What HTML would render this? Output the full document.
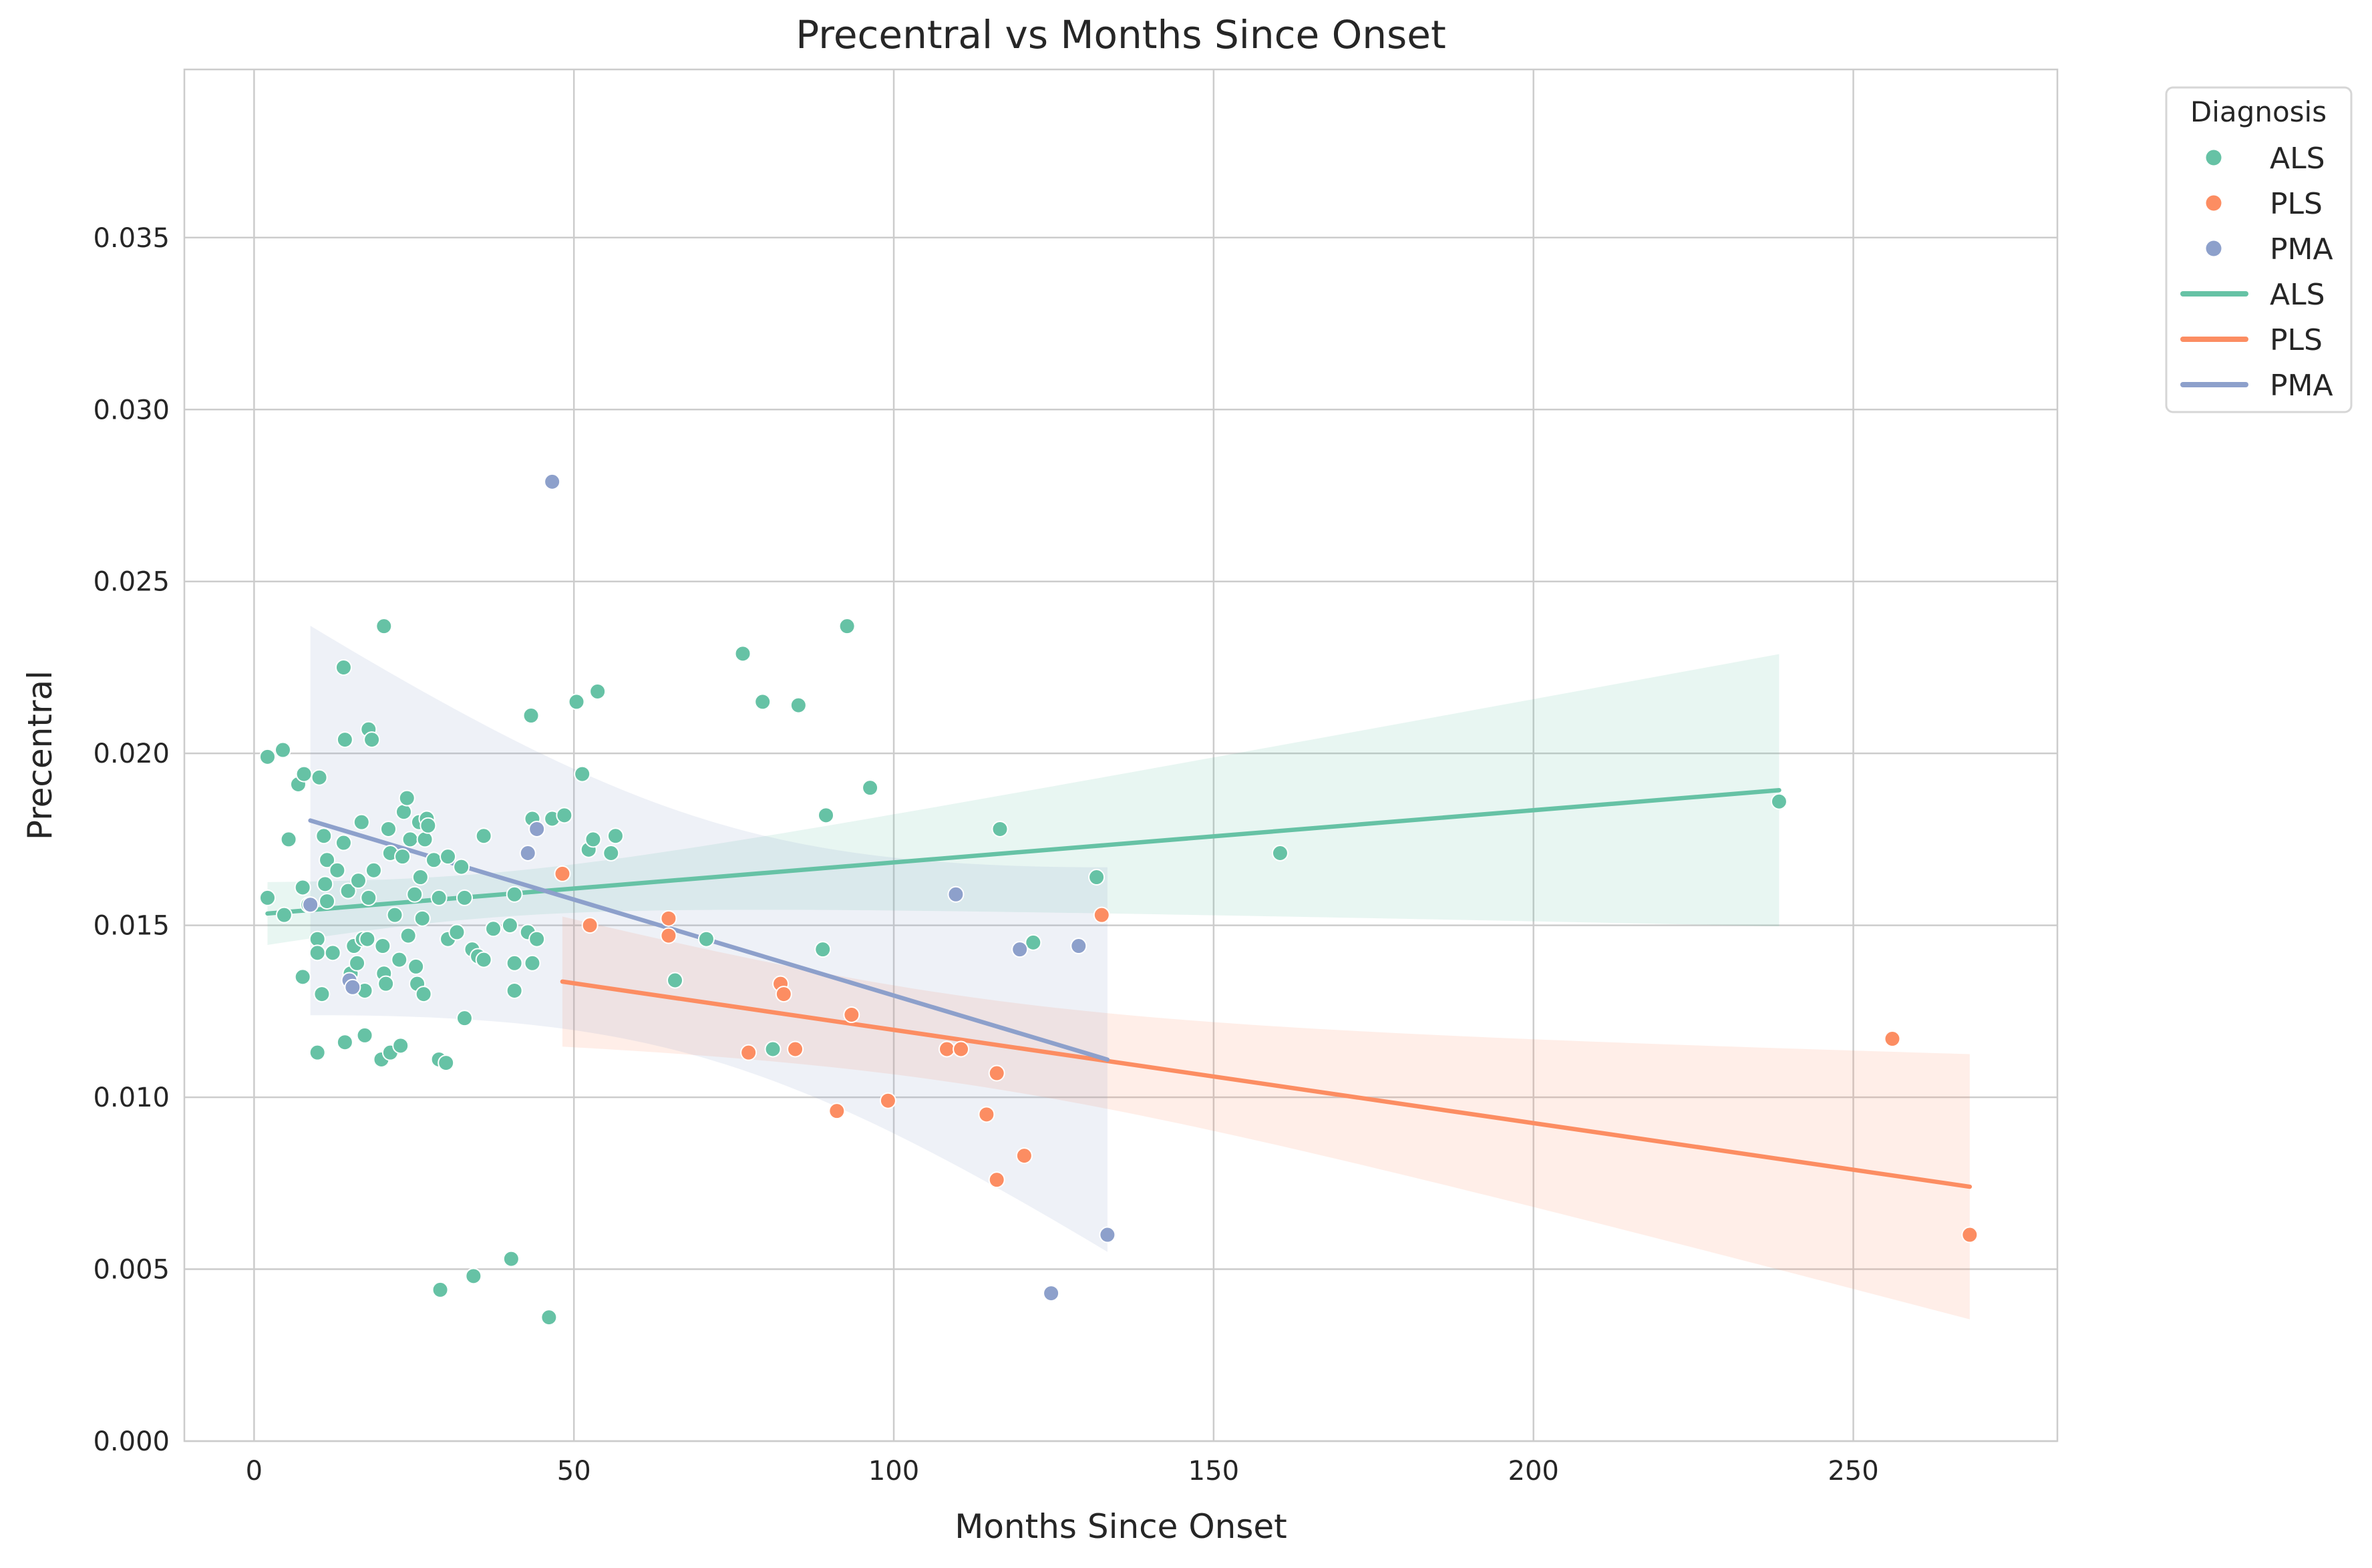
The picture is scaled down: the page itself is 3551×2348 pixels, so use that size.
<!DOCTYPE html>
<html><head><meta charset="utf-8">
<style>
html,body{margin:0;padding:0;background:#fff;}
svg{display:block;font-family:"DejaVu Sans","Liberation Sans",sans-serif;}
</style></head>
<body>
<svg id="chart" width="3551" height="2348" viewBox="0 0 3551 2348" xmlns="http://www.w3.org/2000/svg">
<rect width="3551" height="2348" fill="#fff"/>
<defs><clipPath id="plotclip"><rect x="276" y="104" width="2804" height="2054"/></clipPath></defs>
<g id="grid"></g>
<g id="bands" clip-path="url(#plotclip)"></g>
<g id="lines" clip-path="url(#plotclip)"></g>
<g id="points" clip-path="url(#plotclip)"></g>
<rect x="276" y="104" width="2804" height="2054" fill="none" stroke="#cccccc" stroke-width="2.5"/>
<g id="ticks"></g>
<text x="1678" y="72" text-anchor="middle" font-size="58" fill="#262626">Precentral vs Months Since Onset</text>
<text x="1678" y="2303" text-anchor="middle" font-size="50" fill="#262626">Months Since Onset</text>
<text transform="translate(77,1131) rotate(-90)" text-anchor="middle" font-size="50" fill="#262626">Precentral</text>
<g>
<rect x="3243" y="131" width="277" height="486" rx="10" fill="#fff" stroke="#d6d6d6" stroke-width="3"/>
<text x="3381" y="182" text-anchor="middle" font-size="42" fill="#262626">Diagnosis</text>
<g id="legend-entries"></g>
</g>
</svg>
<script>
const groups = ["ALS","PLS","PMA"];
const colors = ["#66c2a5","#fc8d62","#8da0cb"];
const xTicks = [0,50,100,150,200,250];
const yTicks = [0,0.005,0.010,0.015,0.020,0.025,0.030,0.035];
const yTickLabels = ["0.000","0.005","0.010","0.015","0.020","0.025","0.030","0.035"];
const alsX = [2.1,2.1,4.5,4.7,5.4,6.9,7.8,7.6,7.6,8.5,9.9,9.9,10.2,9.9,10.6,10.9,11.1,11.4,11.4,12.3,13,14,14,14.2,14.2,14.7,15.1,15.6,16.1,16.3,16.8,17,17.3,17.3,17.7,17.9,18.4,17.9,18.7,19.9,20.1,20.3,20.6,20.3,21,21.3,21.3,22,22.7,22.9,23.2,23.4,23.9,24.1,24.4,25.1,25.3,25.8,26,26.3,25.5,26.5,26.7,27,27.2,28.1,28.9,28.9,29.1,30,30.3,30.3,31.7,32.4,32.9,32.9,34.1,34.3,35,35.9,35.9,37.4,40,40.2,40.7,40.7,40.7,42.8,43.3,43.5,43.5,44.2,46.1,46.6,48.5,50.4,51.3,52.3,53,53.7,55.8,56.5,65.8,70.7,76.4,79.5,81.1,85.1,88.9,89.4,92.7,96.3,116.6,121.8,131.7,160.4,238.4];
const alsY = [0.0158,0.0199,0.0201,0.0153,0.0175,0.0191,0.0194,0.0161,0.0135,0.0156,0.0146,0.0142,0.0193,0.0113,0.0130,0.0176,0.0162,0.0169,0.0157,0.0142,0.0166,0.0174,0.0225,0.0204,0.0116,0.0160,0.0136,0.0144,0.0139,0.0163,0.0180,0.0146,0.0118,0.0131,0.0146,0.0207,0.0204,0.0158,0.0166,0.0111,0.0144,0.0136,0.0133,0.0237,0.0178,0.0171,0.0113,0.0153,0.0140,0.0115,0.0170,0.0183,0.0187,0.0147,0.0175,0.0159,0.0138,0.0180,0.0164,0.0152,0.0133,0.0130,0.0175,0.0181,0.0179,0.0169,0.0158,0.0111,0.0044,0.0110,0.0170,0.0146,0.0148,0.0167,0.0123,0.0158,0.0143,0.0048,0.0141,0.0176,0.0140,0.0149,0.0150,0.0053,0.0159,0.0139,0.0131,0.0148,0.0211,0.0139,0.0181,0.0146,0.0036,0.0181,0.0182,0.0215,0.0194,0.0172,0.0175,0.0218,0.0171,0.0176,0.0134,0.0146,0.0229,0.0215,0.0114,0.0214,0.0143,0.0182,0.0237,0.0190,0.0178,0.0145,0.0164,0.0171,0.0186];
const plsX = [48.2,52.5,64.8,64.8,82.3,82.8,93.4,77.3,84.6,91.1,99.1,108.3,110.5,116.1,114.5,116.1,120.4,132.5,256.1,268.2];
const plsY = [0.0165,0.0150,0.0152,0.0147,0.0133,0.0130,0.0124,0.0113,0.0114,0.0096,0.0099,0.0114,0.0114,0.0107,0.0095,0.0076,0.0083,0.0153,0.0117,0.0060];
const pmaX = [8.8,14.9,15.4,44.2,42.8,46.6,109.7,119.7,128.9,124.6,133.4];
const pmaY = [0.0156,0.0134,0.0132,0.0178,0.0171,0.0279,0.0159,0.0143,0.0144,0.0043,0.0060];

const NS="http://www.w3.org/2000/svg";
const X0=276,X1=3080,Y0=2158,Y1=104, xmin=-10.9, xmax=281.9, ymin=0, ymax=0.03989;
function sx(v){return X0+(v-xmin)/(xmax-xmin)*(X1-X0);}
function sy(v){return Y0-(v-ymin)/(ymax-ymin)*(Y0-Y1);}
function mk(tag,attrs,parent){const e=document.createElementNS(NS,tag);for(const k in attrs)e.setAttribute(k,attrs[k]);parent.appendChild(e);return e;}

const grid=document.getElementById('grid'), ticks=document.getElementById('ticks');
xTicks.forEach((t,i)=>{
  const l=mk('line',{x1:sx(t),x2:sx(t),y1:Y1,y2:Y0,stroke:'#cccccc','stroke-width':2.5},grid);
  
  
  const tx=mk('text',{x:sx(t),y:Y0+58,'text-anchor':'middle','font-size':40,fill:'#262626'},ticks);
  tx.textContent=t;
  
  
});
yTicks.forEach((t,i)=>{
  const l=mk('line',{x1:X0,x2:X1,y1:sy(t),y2:sy(t),stroke:'#cccccc','stroke-width':2.5},grid);
  
  
  const tx=mk('text',{x:X0-22,y:sy(t)+14,'text-anchor':'end','font-size':40,fill:'#262626'},ticks);
  tx.textContent=yTickLabels[i];
  
  
});

const data=[[alsX,alsY],[plsX,plsY],[pmaX,pmaY]];
const bands=document.getElementById('bands'), lines=document.getElementById('lines'), pts=document.getElementById('points');
data.forEach(([xs,ys],g)=>{
  const n=xs.length; let mx=0,my=0; for(let i=0;i<n;i++){mx+=xs[i];my+=ys[i];} mx/=n; my/=n;
  let sxx=0,sxy=0; for(let i=0;i<n;i++){sxx+=(xs[i]-mx)**2; sxy+=(xs[i]-mx)*(ys[i]-my);}
  const b=sxy/sxx, a=my-b*mx;
  let sse=0; for(let i=0;i<n;i++){sse+=(ys[i]-a-b*xs[i])**2;}
  const s=Math.sqrt(sse/(n-2)); const tval = n>60?1.98:(n>15?2.4:2.0);
  const lo=Math.min(...xs), hi=Math.max(...xs);
  const up=[],dn=[];
  for(let k=0;k<=100;k++){const x=lo+(hi-lo)*k/100; const yh=a+b*x; const se=s*Math.sqrt(1/n+(x-mx)**2/sxx);
    up.push(sx(x)+','+sy(yh+tval*se)); dn.unshift(sx(x)+','+sy(yh-tval*se));}
  const p=mk('polygon',{points:up.concat(dn).join(' '),fill:colors[g],'fill-opacity':0.15},bands);
  
  
  const l=mk('line',{x1:sx(lo),y1:sy(a+b*lo),x2:sx(hi),y2:sy(a+b*hi),stroke:colors[g],'stroke-width':6.5,'stroke-linecap':'round'},lines);
  
  
});
data.forEach(([xs,ys],g)=>{
  for(let i=0;i<xs.length;i++){
    const c=mk('circle',{cx:sx(xs[i]),cy:sy(ys[i]),r:11.5,fill:colors[g],stroke:'#fff','stroke-width':2},pts);
    
    
  }
});
const le=document.getElementById('legend-entries');
const ly=[236,304,372,440,508,576];
for(let k=0;k<6;k++){
  const g=k%3;
  if(k<3){const c=mk('circle',{cx:3314,cy:ly[k],r:11.5,fill:colors[g]},le);
    
    }
  else{const l=mk('line',{x1:3268,x2:3362,y1:ly[k],y2:ly[k],stroke:colors[g],'stroke-width':8,'stroke-linecap':'round'},le);
    
    }
  const t=mk('text',{x:3398,y:ly[k]+16,'font-size':44,fill:'#262626'},le);
  t.textContent=groups[g];
  
  
}
</script>
</body></html>
